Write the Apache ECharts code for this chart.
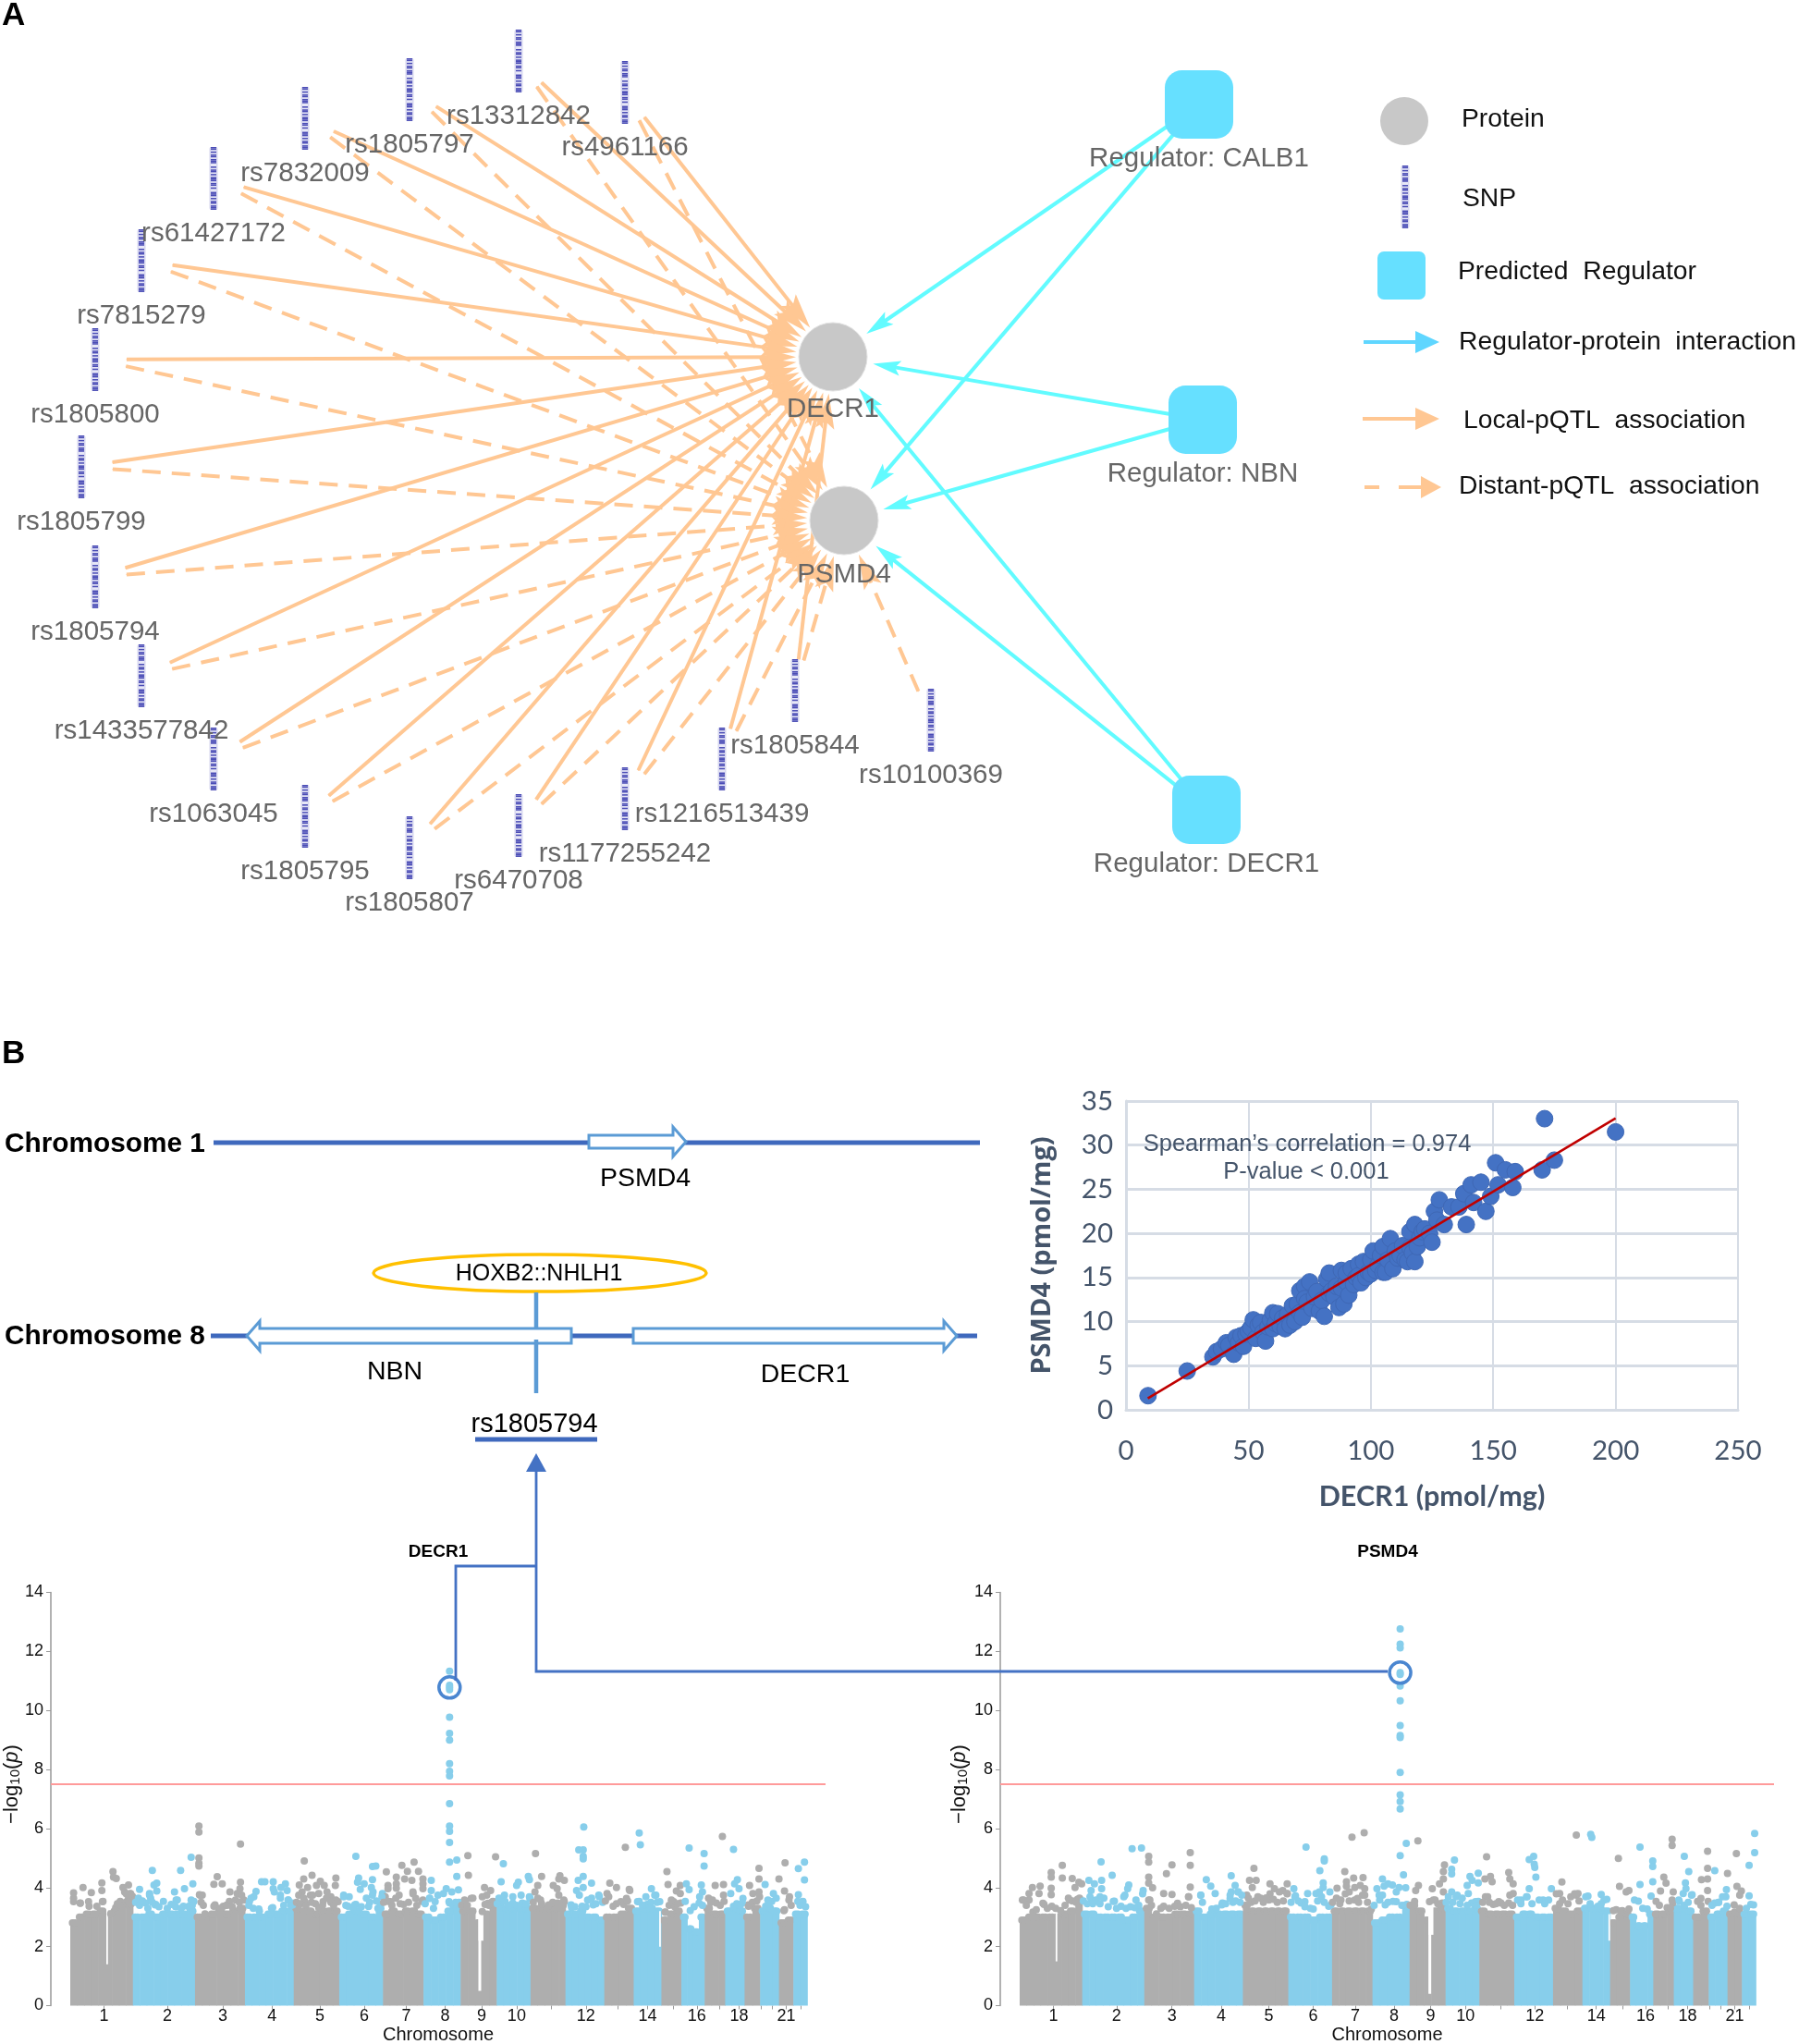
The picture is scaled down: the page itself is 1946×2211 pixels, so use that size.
<!DOCTYPE html>
<html><head><meta charset="utf-8">
<style>html,body{margin:0;padding:0;background:#fff}#c{width:1946px;height:2211px}</style>
<script src="https://cdn.jsdelivr.net/npm/echarts@6/dist/echarts.min.js"></script>
</head><body><div id="c"></div>
<script>
// ---------- DATA ----------
const proteins = ['DECR1','PSMD4'];
const regulators = ['Regulator: CALB1','Regulator: NBN','Regulator: DECR1'];
const snps = ['rs13312842','rs4961166','rs1805797','rs7832009','rs61427172','rs7815279','rs1805800','rs1805799','rs1805794','rs1433577842','rs1063045','rs1805795','rs1805807','rs6470708','rs1177255242','rs1216513439','rs1805844','rs10100369'];
const snpsWithoutLocal = ['rs10100369'];

const decr1Values = [9,25,35.5,37,39,41,42,44,45,46,47,48,49,50,51,52,53,54,55,56,57,58,59,60,60,61,62,63,64,65,66,67,68,69,70,71,71,72,73,73,74,75,76,77,78,79,80,81,82,83,83,84,85,86,87,88,88,89,90,90,91,92,93,94,95,95,96,97,98,99,100,100,101,102,103,104,105,105,106,107,108,109,110,111,112,113,114,115,116,116,117,118,118,119,120,121,122,124,125,126,127,128,130,133,136,138,139,141,142,145,147,149,151,152,155,158,159,170,171,175,200];
const psmd4Values = [1.6,4.4,6,6.6,6.9,7.6,7.3,6.3,8.2,7.6,8.4,7.2,8.6,8.9,9.3,10.2,8.1,9.6,9.9,8.8,7.8,9.4,10.2,11,9.2,9.8,10.9,9.5,10.4,9.2,10.8,9.6,11.8,10,12,13.5,11,10.5,14,12.6,12.2,14.5,11.5,12.8,13.4,11.2,12.4,10.6,14.8,15.5,13.2,13.5,12.8,14,11.6,15.8,13.8,12,14.5,15.5,13,16,14.2,15,16.5,15.2,14.4,16.8,15,15.6,17,15.4,18,15.8,16.4,17.5,18.5,15.6,15.6,17,19.4,16,18,17.2,17.5,18.6,17,16.8,20.2,18.4,17.8,21,16.8,18.5,19.5,20.2,20.5,20,19,22.5,21.5,23.8,21,23,23,24.5,21,25.5,23.5,25.8,22.5,24.2,28,25.5,27.2,25.2,27,27.2,33,28.3,31.5];
const trendX = [8.9,200];
const trendY = [1.3,33.05];

const chromBounds = [0,113,225,315,403,485,564,637,704,769,830,893,963,1016,1066,1102,1144,1181,1216,1244,1278,1304,1329];
const chromTicks = [61,175,275,364,450,530,606,676,742,805,868,930,988,1041,1088,1130,1170,1206,1245,1265,1291,1318];
const chromLabels = ['1','2','3','4','5','6','7','8','9','10','','12','','14','','16','','18','','','21',''];

const decr1Mass = [[2.8,3.0,3.1,3.1,3.2,3.1,3.2,3.4,3.6],[3.0,3.0,3.1,3.0,3.1,3.1,3.1,3.1,3.2],[3.0,3.0,3.1,3.2,3.1,3.2,3.3],[3.0,3.0,3.0,3.1,3.1,3.2,3.2],[3.3,3.2,3.2,3.1,3.2,3.2,3.2],[3.0,3.1,3.2,3.1,3.0,3.3],[3.1,3.2,3.1,3.2,3.2,3.1],[3.0,2.9,3.0,3.2,3.4],[3.2,3.2,2.8,3.1,3.5],[3.5,3.3,3.3,3.3,3.3],[3.3,3.3,3.3,3.3,3.4],[3.1,3.1,3.2,3.0,3.0,2.9],[3.0,3.0,3.1,3.3],[3.2,3.3,3.3,3.2],[2.9,3.1,3.2],[3.0,2.6,2.5,3.0],[3.3,3.1,3.1],[3.2,3.3,3.2],[3.0,3.3],[3.2,3.3,3.2],[2.8,2.9],[3.1,3.1]];
const psmd4Mass = [[2.9,3.0,3.0,3.0,3.0,3.0,3.1,3.2,3.6],[3.1,3.1,3.0,3.0,3.0,3.0,2.9,3.0,3.2],[3.3,3.0,3.0,3.0,3.1,3.1,3.1],[3.2,3.0,3.1,3.1,3.1,3.1,3.1],[3.4,3.2,3.2,3.2,3.2,3.2,3.2],[3.0,3.0,3.0,2.9,3.0,3.0],[3.2,3.2,3.2,3.2,3.2,3.2],[2.8,2.9,3.0,3.0,3.4],[3.4,3.2,2.9,3.2,3.3],[3.3,3.2,3.2,3.2,3.3],[3.2,3.1,3.1,3.1,3.1],[3.0,3.1,3.1,3.0,3.0,3.0],[3.3,3.2,3.1,3.2],[3.3,3.3,3.3,3.2],[2.8,3.0,3.1],[3.0,2.7,2.7,3.1],[3.1,3.1,3.2],[3.3,3.3,3.2],[3.0,3.2],[3.0,3.1,3.2],[3.1,3.1],[3.1,3.1]];
const decr1Gaps = [[65,3,1.4,3.3],[736,5,0.5,3.2],[736,9,2.2,3.5],[1062,3,2.0,3.2]];
const psmd4Gaps = [[65,3,1.5,3.2],[738,5,0.4,3.3],[738,9,2.4,3.5],[1063,3,2.2,3.1]];

const decr1Hits = [[684,11.33],[684,10.85],[684,10.7],[684,9.77],[684,9.22],[684,9.0],[684,8.2],[684,7.94],[684,7.78],[684,6.84],[684,6.08],[684,5.9],[684,5.53],[684,4.86],[697,4.93],[697,4.38],[700,3.92],
[232,6.08],[232,5.88],[232,5.0],[232,4.82],[232,4.73],[307,5.47],
[218,5.03],[199,4.58],[148,4.58],[221,4.13],[151,4.09],[156,4.15],[125,3.94],[206,3.96],[188,3.85],[143,3.8],[145,3.63],[191,3.58],[156,3.88],[153,3.41],[218,3.58],[213,3.36],
[77,4.54],[78,4.35],[83,4.31],[57,4.16],[57,3.9],[23,4.0],[6,3.82],[38,3.83],[105,4.09],[95,4.0],[98,3.85],[33,3.52],[6,3.52],[58,3.52],[108,3.8],[112,3.7],[18,3.47],
[265,4.37],[259,4.11],[274,4.13],[307,4.18],[306,3.96],[301,3.8],[288,3.85],[233,3.76],[238,3.74],[283,3.41],[261,3.41],[313,3.58],
[345,4.2],[351,4.2],[335,3.87],[366,4.2],[388,4.13],[380,4.0],[366,3.96],[368,3.85],[331,3.69],[379,3.74],[391,3.9],[393,3.58],[341,3.2],[363,3.3],[323,3.52],[401,3.41],
[422,4.9],[436,4.42],[421,4.29],[413,4.09],[451,4.21],[444,4.07],[458,4.07],[479,4.32],[478,4.07],[428,4.0],[418,3.85],[463,3.85],[433,3.74],[448,3.8],[470,3.69],[423,3.52],[483,3.52],[456,3.52],
[515,5.06],[551,4.73],[545,4.71],[520,4.32],[518,4.18],[530,4.13],[545,4.27],[523,3.94],[543,4.0],[493,3.74],[503,3.69],[563,3.8],[568,3.69],[545,3.74],[513,3.41],[538,3.36],
[620,4.86],[598,4.75],[570,4.53],[608,4.55],[628,4.55],[588,4.35],[603,4.29],[616,4.24],[588,4.13],[573,4.07],[588,3.98],[573,3.96],[593,3.74],[618,3.85],[578,3.52],[623,3.63],[636,4.29],[636,4.13],[636,3.96],[636,3.58],
[651,4.24],[651,3.9],[648,3.63],[678,3.96],[688,3.85],[663,3.74],[673,3.8],[658,3.52],[683,3.52],[701,3.5],
[717,5.08],[718,4.42],[747,4.0],[758,3.9],[751,3.74],[743,3.69],[723,3.63],[711,3.58],[763,3.52],[753,3.47],[743,3.19],[767,5.04],
[781,4.81],[777,4.2],[808,4.18],[805,4.07],[826,4.38],[828,4.27],[783,3.74],[798,3.69],[813,3.74],[828,3.69],[778,3.63],
[839,5.15],[850,4.38],[883,4.4],[881,4.29],[891,4.24],[871,4.07],[843,4.07],[878,3.96],[838,3.85],[881,3.74],[891,3.52],[848,3.58],[863,3.41],
[926,6.05],[917,5.28],[925,5.28],[925,5.06],[925,4.97],[925,4.38],[916,4.24],[940,4.15],[925,4.0],[913,3.9],[918,3.74],[953,3.74],[933,3.58],[903,3.41],[943,3.41],
[1001,5.36],[973,4.15],[985,4.0],[968,3.8],[1008,3.94],[1003,3.63],[993,3.52],
[1026,5.85],[1028,5.45],[1048,3.96],[1038,3.69],[1056,3.74],[1023,3.52],[1063,3.52],
[1076,4.54],[1078,4.1],[1093,3.88],[1100,3.8],[1073,3.16],[1088,3.52],[1100,4.07],
[1116,5.34],[1143,5.15],[1143,4.73],[1111,4.13],[1138,4.09],[1116,3.93],[1140,3.85],[1135,3.69],
[1176,5.73],[1163,4.07],[1178,4.1],[1178,3.74],[1158,3.58],
[1196,5.29],[1203,4.27],[1198,4.13],[1206,3.96],[1191,3.8],[1213,3.63],
[1242,4.65],[1242,4.29],[1225,4.07],[1242,3.85],[1231,3.8],[1223,3.41],
[1278,4.29],[1253,4.1],[1268,3.8],[1258,3.58],
[1289,4.84],[1288,3.88],[1297,3.69],[1288,3.25],
[1324,4.86],[1313,4.64],[1324,4.26],[1313,3.76],[1321,3.52]];
const decr1Edge = [[6,3.64],[18,3.48],[34,3.37],[48,3.37],[59,3.53],[73,3.11],[82,3.32],[90,3.53],[101,3.79],[109,3.79],
[123,3.64],[136,3.48],[143,3.74],[154,3.43],[168,3.53],[182,3.43],[193,3.58],[204,3.37],[215,3.37],[223,3.53],
[234,3.74],[243,3.11],[259,3.37],[276,3.37],[287,3.53],[298,3.58],[309,3.74],
[326,3.64],[340,3.27],[365,3.32],[379,3.64],[393,3.58],[401,3.48],
[412,3.74],[421,3.64],[437,3.74],[448,3.32],[462,3.64],[479,3.58],
[493,3.69],[501,3.37],[515,3.43],[534,3.64],[546,3.85],[562,3.69],[559,3.43],
[573,3.53],[587,3.64],[601,3.43],[618,3.79],[634,3.53],
[648,3.64],[684,3.48],[701,3.48],
[712,3.53],[726,3.64],[748,3.43],[762,3.53],
[773,3.64],[784,3.53],[798,3.48],[815,3.48],[829,3.64],
[843,3.64],[862,3.37],[879,3.48],[890,3.58],
[904,3.32],[923,3.37],[940,3.64],[954,3.69],
[971,3.69],[979,3.37],[998,3.43],[1009,3.9],
[1026,3.53],[1040,3.43],[1054,3.74],
[1073,3.17],[1084,3.58],[1101,3.48],
[1109,3.53],[1118,3.22],[1134,3.48],
[1151,3.64],[1165,3.48],[1179,3.53],
[1196,3.37],[1212,3.48],
[1223,3.37],[1243,3.69],
[1254,3.37],[1265,3.53],[1273,3.64],
[1287,3.22],[1296,3.58],
[1312,3.53],[1321,3.53],
[85,3.45],[92,3.4],[100,3.5],[105,3.5],[110,3.45],[118,3.5],[125,3.4],[130,3.55],[140,3.3],[148,3.5],[160,3.35],[175,3.3],[190,3.35],[200,3.3],[220,3.4],[236,3.5],[240,3.4],[270,3.3],[282,3.4],[292,3.35],[305,3.5],[322,3.4],[330,3.3],[385,3.4],[398,3.4],[408,3.5],[415,3.45],[425,3.4],[435,3.5],[442,3.45],[455,3.4],[470,3.5],[475,3.4],[497,3.4],[510,3.3],[525,3.35],[540,3.5],[552,3.55],[565,3.5],[580,3.4],[595,3.45],[610,3.5],[625,3.4],[640,3.45],[655,3.3],[690,3.4],[695,3.5],[706,3.4],[716,3.4],[755,3.4],[770,3.45],[790,3.4],[805,3.4],[822,3.45],[835,3.5],[850,3.45],[870,3.5],[884,3.4],[910,3.35],[930,3.35],[948,3.45],[960,3.5],[965,3.55],[985,3.45],[1005,3.55],[1032,3.4],[1047,3.5],[1058,3.5],[1080,3.4],[1090,3.35],[1095,3.45],[1125,3.35],[1140,3.4],[1155,3.5],[1172,3.4],[1202,3.45],[1208,3.4],[1230,3.5],[1238,3.55],[1260,3.45],[1300,3.4],[1316,3.4],[1326,3.35]];

const psmd4Hits = [[687,12.76],[687,12.25],[687,12.12],[687,11.22],[687,10.83],[687,10.33],[687,9.49],[687,9.15],[687,9.08],[687,7.9],[687,7.14],[687,6.91],[687,6.66],[687,5.08],[693,4.43],[698,5.5],[697,3.99],[685,4.0],
[600,5.71],[622,5.86],[719,5.58],
[203,5.32],[220,5.34],[147,4.87],[167,4.42],[125,4.24],[148,4.24],[135,4.13],[197,4.09],[195,3.96],[148,3.96],[129,3.9],[223,3.9],[190,3.74],[145,3.69],[171,3.54],[210,3.58],[130,3.58],
[77,4.75],[57,4.51],[57,4.35],[77,4.32],[95,4.31],[107,4.18],[112,4.13],[100,4.0],[23,4.0],[37,4.05],[35,3.8],[57,3.98],[57,3.76],[17,3.8],[17,3.58],[5,3.58],[42,3.47],[90,3.58],
[233,5.06],[233,4.86],[308,5.18],[308,4.75],[275,4.77],[265,4.47],[233,4.35],[233,4.15],[240,3.99],[308,4.02],[260,3.8],[275,3.77],[305,3.69],[235,3.58],[285,3.47],
[337,4.27],[345,4.05],[353,3.8],[382,4.4],[389,4.07],[382,3.85],[327,3.74],[395,3.85],[380,3.63],[365,3.41],
[423,4.65],[415,4.24],[427,4.24],[420,4.0],[452,4.13],[460,3.96],[483,4.13],[475,3.9],[483,3.8],[410,3.74],[430,3.69],[450,3.58],
[517,5.37],[550,4.97],[550,4.9],[542,4.57],[548,4.16],[548,4.0],[495,3.96],[498,3.72],[520,3.8],[535,3.8],[560,3.85],[545,3.69],[562,3.41],[515,3.52],
[587,4.54],[603,4.32],[620,4.34],[590,4.2],[590,4.05],[605,4.0],[615,4.07],[573,3.98],[623,3.96],[623,3.74],[595,3.85],[610,3.63],[580,3.58],
[645,3.96],[655,4.29],[665,4.13],[673,4.09],[655,3.74],[680,3.85],[650,3.58],[680,3.52],[660,3.41],
[720,4.07],[715,3.9],[765,4.54],[767,4.77],[758,4.13],[745,3.96],[750,3.58],[765,4.29],[765,3.85],[740,3.52],
[785,4.93],[780,4.62],[780,4.46],[813,4.38],[828,4.49],[817,4.24],[808,4.07],[828,4.16],[780,3.85],[790,3.74],[810,3.8],[823,3.52],
[843,5.04],[850,4.38],[840,4.29],[853,4.2],[845,3.69],[883,4.51],[885,4.29],[891,4.13],[885,3.74],[891,3.8],[865,3.52],
[920,4.95],[928,5.06],[929,4.79],[930,4.68],[932,4.35],[920,3.96],[960,3.96],[915,3.69],[945,3.58],[905,3.58],
[979,4.19],[975,3.8],[1005,5.78],[1008,3.8],[995,3.69],[1005,3.74],
[1031,5.8],[1033,5.7],[1026,3.71],[1050,3.77],[1060,3.6],
[1081,4.99],[1083,4.04],[1095,3.85],[1077,3.25],[1100,3.9],
[1120,5.37],[1143,4.9],[1143,4.71],[1120,4.1],[1143,4.2],[1140,3.71],[1117,3.54],
[1178,5.64],[1178,5.43],[1163,4.35],[1167,4.15],[1157,3.88],[1180,3.85],[1178,3.58],
[1200,5.06],[1208,4.54],[1202,4.16],[1203,3.96],[1198,3.8],[1214,3.76],[1190,3.58],
[1242,5.23],[1242,4.65],[1231,4.27],[1242,4.29],[1230,3.63],[1242,3.9],
[1255,4.57],[1278,4.48],[1276,3.93],[1262,3.5],[1275,3.69],
[1294,5.15],[1295,4.04],[1303,3.88],[1300,3.74],[1290,3.41],
[1327,5.83],[1327,5.18],[1317,4.75],[1317,3.72],[1325,3.41]];
const psmd4Edge = [[7,3.58],[24,3.17],[44,3.43],[58,3.37],[74,3.22],[88,3.64],[108,3.64],
[127,3.69],[138,3.58],[152,3.64],[169,3.53],[183,3.37],[188,3.69],[208,3.32],[222,3.79],
[233,3.58],[247,3.11],[260,3.37],[280,3.37],[305,3.69],[310,3.32],
[327,3.74],[347,3.27],[366,3.48],[380,3.74],[394,3.85],[401,3.74],
[413,3.64],[435,3.64],[452,3.79],[469,3.85],[483,3.79],
[497,3.69],[508,3.48],[530,3.27],[541,3.85],[558,3.37],
[572,3.64],[588,3.79],[605,3.58],[619,3.74],[635,3.27],
[649,3.74],[658,4.05],[674,3.53],[699,3.43],
[713,3.53],[747,3.58],[763,3.48],
[774,3.69],[788,3.69],[799,3.64],[816,3.48],[828,3.53],
[841,3.69],[855,3.43],[869,3.48],[883,3.48],
[899,3.58],[916,3.69],[938,3.58],[955,3.58],
[969,3.79],[980,3.58],[1002,3.79],
[1022,3.69],[1044,3.37],[1055,3.58],
[1072,3.22],[1088,3.22],[1100,3.27],
[1110,3.58],[1133,3.27],
[1149,3.53],[1169,3.32],[1179,3.48],
[1191,3.53],[1213,3.74],
[1224,3.53],[1243,3.53],
[1255,3.48],[1269,3.69],[1277,3.37],
[1291,3.17],[1320,3.43],
[12,3.4],[30,3.25],[50,3.3],[65,3.3],[82,3.4],[95,3.55],[102,3.5],[115,3.55],[122,3.45],[132,3.45],[145,3.45],[160,3.35],[175,3.3],[192,3.3],[200,3.35],[215,3.4],[238,3.4],[255,3.3],[270,3.3],[290,3.35],[300,3.4],[330,3.5],[355,3.3],[372,3.45],[385,3.5],[390,3.55],[398,3.5],[418,3.5],[425,3.55],[440,3.5],[445,3.65],[458,3.6],[465,3.5],[476,3.55],[490,3.5],[503,3.55],[515,3.35],[525,3.3],[538,3.55],[550,3.5],[565,3.5],[578,3.45],[595,3.55],[612,3.5],[628,3.5],[640,3.4],[665,3.5],[690,3.4],[705,3.4],[755,3.45],[770,3.5],[782,3.5],[795,3.45],[808,3.4],[825,3.4],[836,3.5],[848,3.5],[860,3.45],[875,3.4],[890,3.4],[905,3.45],[925,3.45],[948,3.45],[975,3.45],[990,3.45],[1010,3.55],[1030,3.45],[1050,3.45],[1085,3.2],[1125,3.3],[1155,3.4],[1175,3.3],[1200,3.4],[1207,3.5],[1230,3.4],[1250,3.4],[1262,3.5],[1300,3.3],[1312,3.3]];
const decr1Lead = [[684,10.78]];
const psmd4Lead = [[687,11.28]];
const gwasThreshold = 7.5;

// ---------- LAYOUT (page pixels, via the overlay axes) ----------
const W = 1946, H = 2211;
const proteinPos = [[901,386],[913,563]];
const regulatorPos = [[1297,113],[1301,454],[1305,876]];
const snpPos = [[561,66],[676,100],[443,97],[330,128],[231,193],[153,282],[103,389],[88,505],[103,624],[153,731],[231,821],[330,883],[443,917],[561,893],[676,864],[781,821],[860,747],[1007,779]];
const GREY='#666666', ORANGE='#ffc793', CYAN='#62fbff', SKY='#66e0ff', BLUE='#4472c4', LBLUE='#5b9bd5', SLATE='#44546a';
const SANS="'Liberation Sans',Arial,sans-serif";

function svgUri(body,s){return 'image://data:image/svg+xml;utf8,'+encodeURIComponent('<svg xmlns="http://www.w3.org/2000/svg" width="'+s+'" height="'+s+'" viewBox="0 0 '+s+' '+s+'">'+body+'</svg>');}
const stripe='110101101110010110101110110100111010110111';
function snpBars(cx,cy,h,w){let b='<rect x="'+(cx-w/2)+'" y="'+(cy-h/2)+'" width="'+w+'" height="'+h+'" rx="2" fill="#e6e6f6" stroke="#b9b9e3" stroke-width="0.6"/>';
  const n=stripe.length,sh=h/n;for(let i=0;i<n;i++){if(stripe[i]==='1')b+='<rect x="'+(cx-w/2+1)+'" y="'+(cy-h/2+i*sh)+'" width="'+(w-2)+'" height="'+(sh*0.95)+'" fill="#4a4cb6"/>';}return b;}
const snpImg=svgUri(snpBars(34,34,68,8),68);
const proteinImg=svgUri('<circle cx="59" cy="59" r="37" fill="#c8c8c8" stroke="#e2e2e2" stroke-width="1"/>',118);
// slim barbed arrow head: tiny corner specks keep the path's square box
const arrowHead='path://M0 0h.01v.01h-.01zM100 100h.01v.01h-.01zM50 0L77 100L50 80L23 100Z';
function lab(y){return {position:['50%',y],align:'center',verticalAlign:'middle'};}

const nodes=[],links=[];
proteins.forEach((n,i)=>nodes.push({name:n,value:proteinPos[i],symbol:proteinImg,symbolSize:118,label:lab(59+(i?59:57))}));
regulators.forEach((n,i)=>nodes.push({name:n,value:regulatorPos[i],symbol:'roundRect',symbolSize:[74,74],itemStyle:{color:SKY,borderRadius:8},label:lab(37+59),z:3}));
snps.forEach((n,i)=>nodes.push({name:n,value:snpPos[i],symbol:snpImg,symbolSize:68,label:lab(34+60)}));
const solid={color:ORANGE,width:4,type:'solid',opacity:1}, dashed={color:ORANGE,width:4,type:[20,12],opacity:1}, cy={color:CYAN,width:4,type:'solid',opacity:1};
snps.forEach((n,i)=>{
  if(!snpsWithoutLocal.includes(n)) links.push({source:n,target:'DECR1',lineStyle:solid,symbolSize:[1,38]});
  links.push({source:n,target:'PSMD4',lineStyle:dashed,symbolSize:[1,38]});
});
const regLinks=[];
regulators.forEach(r=>proteins.forEach(p=>regLinks.push({source:r,target:p,lineStyle:cy,symbolSize:[1,30]})));

// ---------- graphic helpers ----------
const gfx=[];
let o_z=15;
function T(text,x,y,size,o={}){gfx.push({type:'text',z:20,silent:true,style:{text,x,y,font:(o.w||'normal')+' '+size+'px '+(o.f||SANS),fill:o.c||'#000',align:o.a||'center',verticalAlign:'middle'},rotation:o.r||0});}
function L(x1,y1,x2,y2,c,w,d){gfx.push({type:'line',z:o_z,silent:true,shape:{x1,y1,x2,y2},style:{stroke:c,lineWidth:w,lineDash:d||null}});}
function P(points,fill,stroke,w){gfx.push({type:'polygon',z:o_z,silent:true,shape:{points},style:{fill,stroke:stroke||null,lineWidth:w||0}});}
function gene(x0,xb,xt,yc,bh,hh){P([[x0,yc-bh],[xb,yc-bh],[xb,yc-hh],[xt,yc],[xb,yc+hh],[xb,yc+bh],[x0,yc+bh]],'#fff',LBLUE,3);}
function logName(x,y){gfx.push({type:'text',z:20,silent:true,x,y,rotation:Math.PI/2,style:{text:'{m|\u2212log}{s|10}{m|(}{i|p}{m|)}',x:0,y:0,align:'center',verticalAlign:'middle',
  rich:{m:{fontFamily:SANS,fontSize:22,fill:'#111'},s:{fontFamily:SANS,fontSize:15,fill:'#111',verticalAlign:'bottom',lineHeight:22},i:{fontFamily:SANS,fontSize:22,fontStyle:'italic',fill:'#111'}}}});}

// panel letters
T('A',2,17,35,{w:'bold',a:'left'});
T('B',2,1140,35,{w:'bold',a:'left'});

// legend of panel A
gfx.push({type:'circle',z:15,silent:true,shape:{cx:1519,cy:131,r:26},style:{fill:'#c8c8c8'}});
gfx.push({type:'image',z:15,silent:true,style:{image:snpImg.replace('image://',''),x:1486,y:179,width:68,height:68}});
gfx.push({type:'rect',z:15,silent:true,shape:{x:1490,y:272,width:52,height:52,r:7},style:{fill:SKY}});
L(1475,370,1534,370,'#5fd6ff',4); P([[1531,358],[1557,370],[1531,382]],'#5fd6ff');
L(1474,453,1534,453,ORANGE,4);   P([[1531,441],[1557,453],[1531,465]],ORANGE);
L(1476,527,1492,527,ORANGE,4); L(1513,527,1537,527,ORANGE,4); P([[1537,515],[1559,527],[1537,539]],ORANGE);
[['Protein',1581,129],['SNP',1582,215],['Predicted  Regulator',1577,294],['Regulator-protein  interaction',1578,370],['Local-pQTL  association',1583,455],['Distant-pQTL  association',1578,526]]
 .forEach(t=>T(t[0],t[1],t[2],28.3,{a:'left',c:'#111'}));

// gene schematic
T('Chromosome 1',5,1238,29.8,{w:'bold',a:'left'});
L(231,1236,1060,1236,'#3f69bd',5);
gene(637,728,742,1235,7,16);
T('PSMD4',698,1275,28.5);
gfx.push({type:'ellipse',z:15,silent:true,shape:{cx:584,cy:1377,rx:180,ry:20},style:{fill:'#fff',stroke:'#ffc000',lineWidth:3.5}});
T('HOXB2::NHLH1',583,1378,25);
T('Chromosome 8',5,1446,29.8,{w:'bold',a:'left'});
L(228,1445,1057,1445,'#3f69bd',5);
gene(618,281,267,1445,8,16);
gene(685,1021,1035,1445,8,16);
L(580,1398,580,1437,LBLUE,4.5); L(580,1449,580,1507,LBLUE,4.5);
T('NBN',427,1484,28.5); T('DECR1',871,1487,28.5);
T('rs1805794',578,1541,29);
L(514,1557,646,1557,'#3f69bd',5);
P([[580,1572],[591,1592],[569,1592]],BLUE);
// connectors from the two lead SNPs
gfx.push({type:'polyline',z:25,silent:true,shape:{points:[[493,1818],[493,1694],[580,1694]]},style:{stroke:BLUE,lineWidth:2.8,fill:null}});
gfx.push({type:'polyline',z:25,silent:true,shape:{points:[[580,1590],[580,1808],[1501,1808]]},style:{stroke:BLUE,lineWidth:2.8,fill:null}});
// scatter annotation
T('Spearman\u2019s correlation = 0.974',1414,1238,25.5,{c:SLATE});
T('P-value < 0.001',1413,1268,25.5,{c:SLATE});
// manhattan titles and rotated y names
T('DECR1',474,1679,19,{w:'bold'});
T('PSMD4',1501,1679,19,{w:'bold'});
logName(13,1930);
logName(1038,1930);

// ---------- series builders ----------
const GRAY_M='#aeaeae', BLUE_M='#87ceeb';
function chromOf(p){for(let i=0;i<22;i++){if(p<chromBounds[i+1])return i;}return 21;}
function massData(m){const out=[];m.forEach((bins,c)=>{const a=chromBounds[c],b=chromBounds[c+1],w=(b-a)/bins.length;bins.forEach((h,i)=>out.push([a+i*w,a+(i+1)*w,h,c]));});return out;}
function massSeries(m,g){return {type:'custom',xAxisIndex:g,yAxisIndex:g,encode:{x:[0,1],y:2},data:massData(m),z:2,silent:true,clip:false,
  renderItem(p,api){const a=api.coord([api.value(0),0]),b=api.coord([api.value(1),api.value(2)]);
    const fill=api.value(3)%2?BLUE_M:GRAY_M, w=b[0]-a[0], r=4;
    const kids=[{type:'rect',shape:{x:a[0],y:b[1],width:w+0.6,height:a[1]-b[1]},style:{fill}}];
    const n=Math.max(2,Math.round(w/7));
    for(let i=0;i<n;i++){kids.push({type:'circle',shape:{cx:a[0]+r*0.6+(w-r*1.2)*i/(n-1),cy:b[1],r},style:{fill}});}
    return {type:'group',children:kids};}};}
function gapSeries(gp,g){return {type:'custom',xAxisIndex:g,yAxisIndex:g,encode:{x:[0],y:[2,3]},data:gp,z:3,silent:true,
  renderItem(p,api){const a=api.coord([api.value(0),api.value(2)]),b=api.coord([api.value(0)+api.value(1),api.value(3)]);
    return {type:'rect',shape:{x:a[0],y:b[1],width:b[0]-a[0],height:a[1]-b[1]},style:{fill:'#fff'}};}};}
function hitSeries(d,g){return {type:'scatter',xAxisIndex:g,yAxisIndex:g,data:d,symbolSize:8,z:4,silent:true,
  itemStyle:{opacity:1,color:p=>chromOf(p.value[0])%2?BLUE_M:GRAY_M}};}
function leadSeries(d,g){return {type:'scatter',xAxisIndex:g,yAxisIndex:g,data:d,symbolSize:8,z:5,silent:true,itemStyle:{color:BLUE_M,opacity:1}};}
function ringSeries(d,g){return {type:'scatter',xAxisIndex:g,yAxisIndex:g,data:d,symbolSize:23,z:6,silent:true,itemStyle:{color:'rgba(255,255,255,0)',borderColor:'#4a86d0',borderWidth:3.5,opacity:1}};}
function threshold(g){return {type:'line',xAxisIndex:g,yAxisIndex:g,data:[[-35,gwasThreshold],[1362,gwasThreshold]],symbol:'none',z:3,silent:true,lineStyle:{color:'#ff9a9a',width:2}};}
const mX=g=>({gridIndex:g,type:'value',min:-35,max:1362,splitLine:{show:false},axisLine:{show:false},
  axisTick:{show:true,length:4,customValues:chromTicks,lineStyle:{color:'#999'}},
  axisLabel:{show:true,customValues:chromTicks,margin:3,fontFamily:SANS,fontSize:18,color:'#111',hideOverlap:false,showMinLabel:true,showMaxLabel:true,
    formatter:v=>{let k=chromTicks.indexOf(v);return k>=0?chromLabels[k]:'';}},
  name:'Chromosome',nameLocation:'middle',nameGap:22,nameTextStyle:{fontFamily:SANS,fontSize:20,color:'#111'}});
const mY=g=>({gridIndex:g,type:'value',min:0,max:14,interval:2,splitLine:{show:false},
  axisLine:{show:true,onZero:false,lineStyle:{color:'#999',width:1.5}},axisTick:{show:true,length:5,lineStyle:{color:'#999'}},
  axisLabel:{margin:8,fontFamily:SANS,fontSize:18,color:'#111',padding:[3,0,0,0]}});

const option={
  animation:false,backgroundColor:'#fff',
  graphic:{elements:gfx},
  grid:[
    {left:0,top:0,width:W,height:H,show:false,outerBoundsMode:'none'},
    {left:1218,top:1191,width:662,height:334,outerBoundsMode:'none'},
    {left:55,top:1722.5,width:838,height:447,outerBoundsMode:'none'},
    {left:1082,top:1722.5,width:837,height:447,outerBoundsMode:'none'}
  ],
  xAxis:[
    {gridIndex:0,type:'value',min:0,max:W,show:false},
    {gridIndex:1,type:'value',min:0,max:250,interval:50,axisLine:{show:true,lineStyle:{color:'#d6dce5',width:3}},axisTick:{show:false},
      splitLine:{show:true,lineStyle:{color:'#d6dce5',width:2}},axisLabel:{margin:29,fontFamily:'Lato',fontSize:29.5,color:SLATE,showMaxLabel:true},
      name:'DECR1 (pmol/mg)',nameLocation:'middle',nameGap:79,nameTextStyle:{fontFamily:'Lato',fontWeight:'bold',fontSize:30.5,color:SLATE}},
    mX(2),mX(3)
  ],
  yAxis:[
    {gridIndex:0,type:'value',min:0,max:H,inverse:true,show:false},
    {gridIndex:1,type:'value',min:0,max:35,interval:5,axisLine:{show:true,lineStyle:{color:'#d6dce5',width:3}},axisTick:{show:false},
      splitLine:{show:true,lineStyle:{color:'#d6dce5',width:3}},axisLabel:{margin:14,fontFamily:'Lato',fontSize:29.5,color:SLATE},
      name:'PSMD4 (pmol/mg)',nameLocation:'middle',nameGap:76,nameRotate:90,nameTextStyle:{fontFamily:"'Open Sans'",fontWeight:'bold',fontSize:29,color:SLATE}},
    mY(2),mY(3)
  ],
  series:[
    {type:'graph',name:'network',coordinateSystem:'cartesian2d',xAxisIndex:0,yAxisIndex:0,layout:'none',roam:false,silent:true,z:5,
     edgeSymbol:['circle',arrowHead],edgeSymbolSize:[1,30],
     label:{show:true,fontFamily:SANS,fontSize:29.5,color:GREY},
     labelLayout:{hideOverlap:false},
     data:nodes,links:links.concat(regLinks),lineStyle:{opacity:1,curveness:0}},
    {type:'scatter',xAxisIndex:1,yAxisIndex:1,data:decr1Values.map((v,i)=>[v,psmd4Values[i]]),symbolSize:18,silent:true,z:3,
     itemStyle:{color:'#4472c4',opacity:1,borderColor:'#3f68b5',borderWidth:1}},
    {type:'line',xAxisIndex:1,yAxisIndex:1,data:trendX.map((v,i)=>[v,trendY[i]]),symbol:'none',silent:true,z:4,lineStyle:{color:'#c00000',width:2.6}},
    massSeries(decr1Mass,2),gapSeries(decr1Gaps,2),hitSeries(decr1Hits,2),hitSeries(decr1Edge,2),leadSeries(decr1Lead,2),ringSeries(decr1Lead,2),threshold(2),
    massSeries(psmd4Mass,3),gapSeries(psmd4Gaps,3),hitSeries(psmd4Hits,3),hitSeries(psmd4Edge,3),leadSeries(psmd4Lead,3),ringSeries(psmd4Lead,3),threshold(3)
  ]
};
const chart=echarts.init(document.getElementById('c'),null,{renderer:'canvas',width:W,height:H});
chart.setOption(option);
</script></body></html>
